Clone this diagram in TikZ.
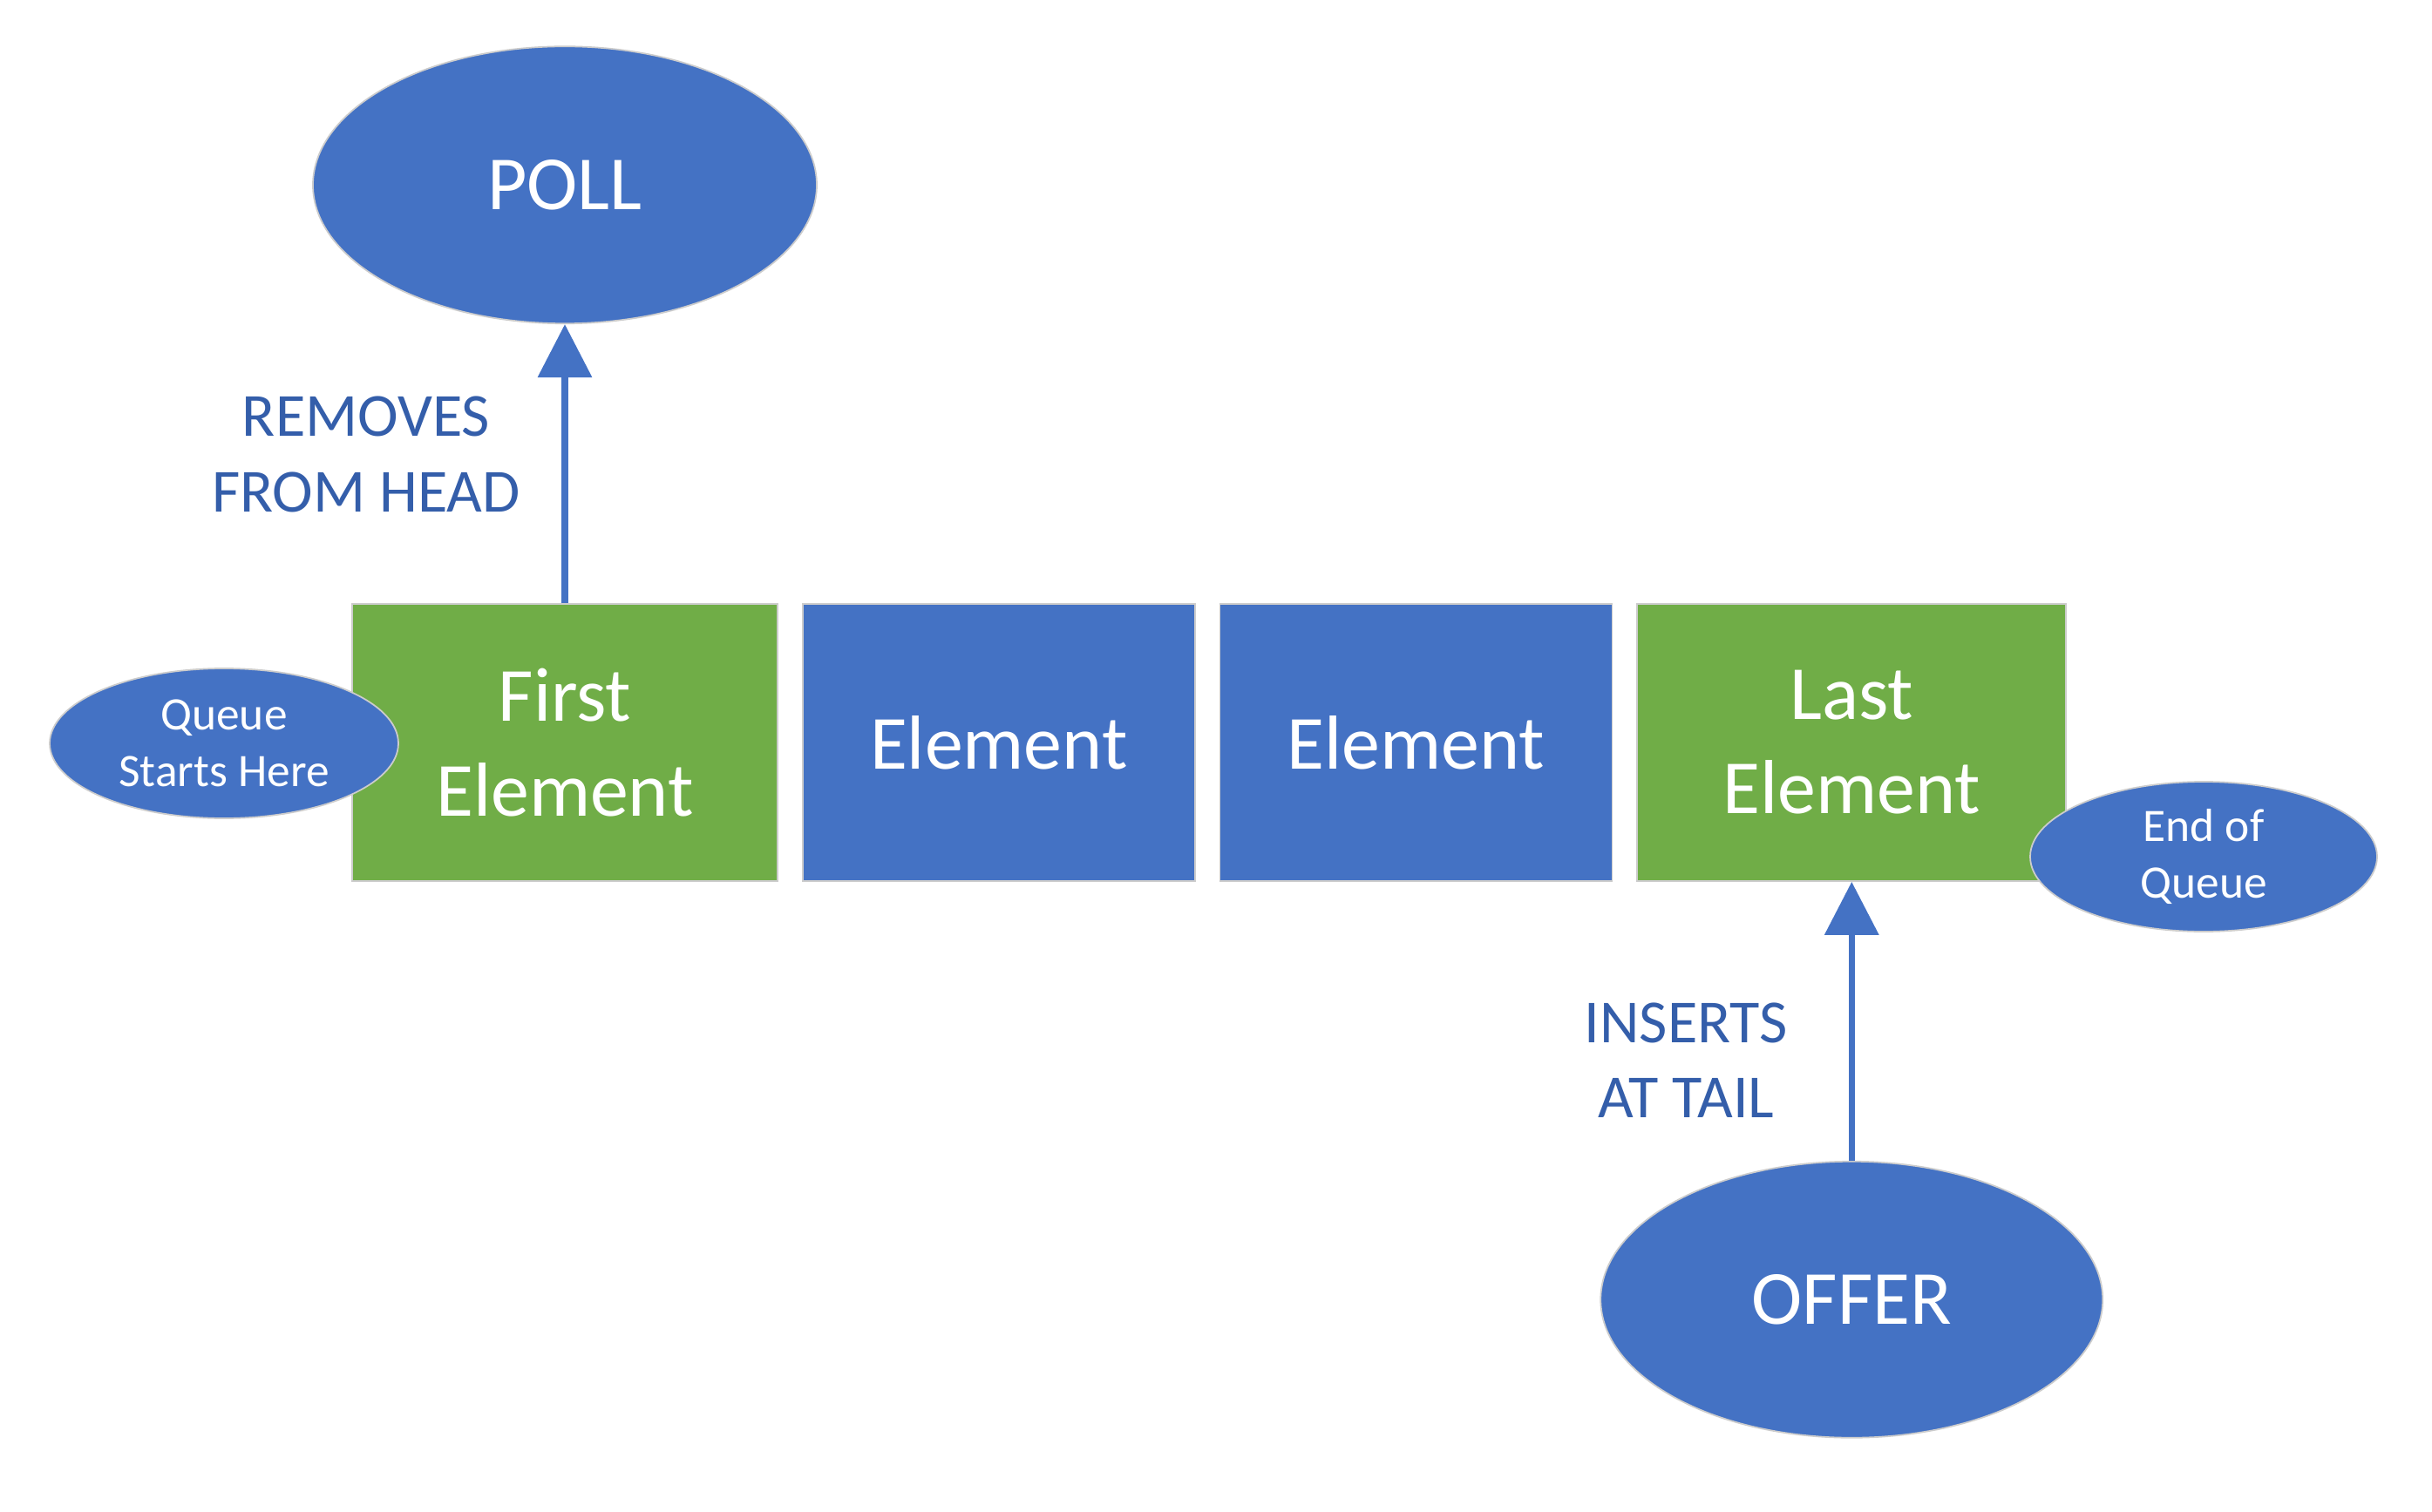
\documentclass[tikz,border=0pt]{standalone}
\usepackage{fontspec}
\setmainfont{Carlito}
\usetikzlibrary{arrows.meta,shapes.geometric,positioning}
\usepackage{xcolor}
\definecolor{myblue}{RGB}{68,114,196}
\definecolor{mygreen}{RGB}{112,173,71}
\definecolor{mytext}{RGB}{52,94,170}

\begin{document}
\begin{tikzpicture}[->,>={Triangle[length=6.1mm,width=6.1mm]},node distance=2.7mm]
  \tikzstyle{box}=[rectangle,draw=black!20,line width=0.5pt,minimum height=3.18cm,inner sep=0pt,text=white,align=center,font=\fontsize{25}{30.8}\selectfont]
  \tikzstyle{blob}=[ellipse,draw=black!20,line width=0.5pt,fill=myblue,inner sep=0pt,text=white,align=center]
  \tikzstyle{note}=[text=mytext,align=center,font=\fontsize{20}{24.6}\selectfont]
  \useasboundingbox (0,0) rectangle (27.9,-17.35);

  \node[box,fill=mygreen,minimum width=4.88cm] (first) at (6.48,-8.52) {First\\Element};
  \node[box,fill=myblue,minimum width=4.5cm]   (elem1) [right=of first] {Element};
  \node[box,fill=myblue,minimum width=4.5cm]   (elem2) [right=of elem1] {Element};
  \node[box,fill=mygreen,minimum width=4.92cm] (last)  [right=of elem2] {Last\\Element};

  \node[blob,minimum width=5.78cm,minimum height=3.18cm,font=\fontsize{25}{30.8}\selectfont] (poll)  [above=3.2cm of first] {POLL};
  \node[blob,minimum width=5.76cm,minimum height=3.17cm,font=\fontsize{25}{30.8}\selectfont] (offer) [below=3.2cm of last]  {OFFER};
  \node[blob,minimum width=4cm,minimum height=1.72cm,font=\fontsize{15.2}{18.3}\selectfont]    (start) at (2.57,-8.53)  {Queue\\Starts Here};
  \node[blob,minimum width=3.98cm,minimum height=1.72cm,font=\fontsize{15.2}{18.3}\selectfont] (end)   at (25.28,-9.83) {End of\\Queue};

  \path (first) edge[myblue,line width=2pt] node[note,pos=0.534,left=3.6mm] {REMOVES\\FROM HEAD} (poll);
  \path (offer) edge[myblue,line width=2pt] node[note,pos=0.36,left=5.8mm] {INSERTS\\AT TAIL} (last);
\end{tikzpicture}
\end{document}
